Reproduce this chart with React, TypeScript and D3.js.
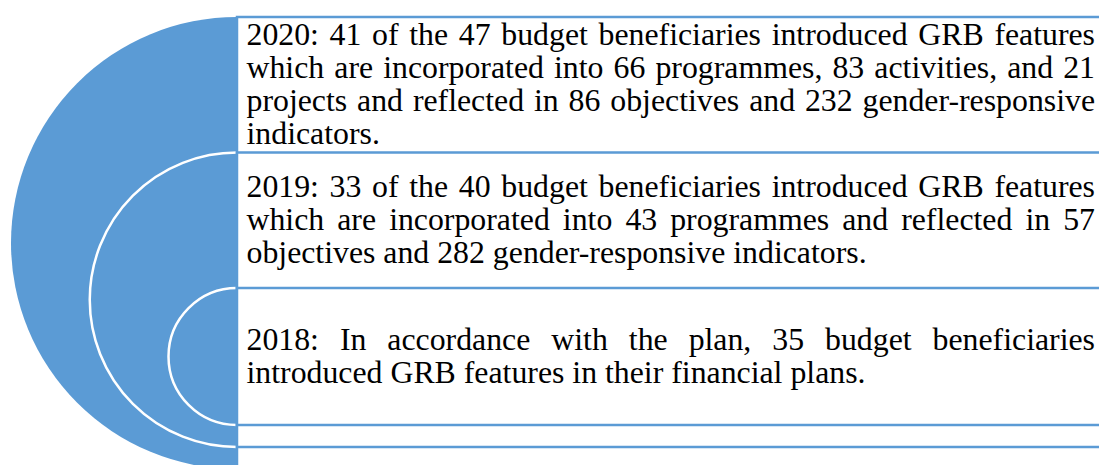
import { useEffect, useRef } from "react";
import * as d3 from "d3";

// nested target levels, outer to inner
const levels = [0, 1, 2];

const text2020 = [
  "2020: 41 of the 47 budget beneficiaries introduced GRB features",
  "which are incorporated into 66 programmes, 83 activities, and 21",
  "projects and reflected in 86 objectives and 232 gender-responsive",
  "indicators.",
];
const text2019 = [
  "2019: 33 of the 40 budget beneficiaries introduced GRB features",
  "which are incorporated into 43 programmes and reflected in 57",
  "objectives and 282 gender-responsive indicators.",
];
const text2018 = [
  "2018: In accordance with the plan, 35 budget beneficiaries",
  "introduced GRB features in their financial plans.",
];
const paragraphs = [text2020, text2019, text2018];

const width = 1099;
const height = 465;
const blue = "#5B9BD5";

export default function App() {
  const ref = useRef<SVGSVGElement>(null);

  useEffect(() => {
    const svg = d3.select(ref.current);
    svg.selectAll("*").remove();

    const cx = 237;
    const top = d3.scaleLinear().domain([0, 2]).range([17, 288]);
    const radius = d3.scaleLinear().domain([0, 2]).range([226, 68.5]);

    // circles
    svg
      .append("g")
      .selectAll("circle")
      .data(levels)
      .join("circle")
      .attr("cx", cx)
      .attr("cy", (d) => top(d) + radius(d))
      .attr("r", (d) => radius(d))
      .attr("fill", blue)
      .attr("stroke", (d) => (d === 0 ? "none" : "#fff"))
      .attr("stroke-width", 2.5);

    // text boxes
    svg
      .append("g")
      .selectAll("rect")
      .data(levels)
      .join("rect")
      .attr("x", cx)
      .attr("y", (d) => top(d))
      .attr("width", 1000)
      .attr("height", (d) => 2 * radius(d))
      .attr("fill", "#fff")
      .attr("stroke", blue)
      .attr("stroke-width", 2.5);

    const g = svg
      .append("g")
      .attr("font-family", "'Liberation Serif', 'Times New Roman', serif")
      .attr("font-size", 31.8)
      .attr("fill", "#000");

    const x0 = 246.5;
    const x1 = 1095;
    const lh = 33;

    paragraphs.forEach((lines, i) => {
      const y0 = top(i);
      const y1 = i < levels.length - 1 ? top(i + 1) : top(i) + 2 * radius(i);
      const mid = (y0 + y1) / 2;
      const n = lines.length;
      lines.forEach((line, j) => {
        const y = mid - ((n - 1) / 2) * lh + 9.5 + j * lh;
        if (j === n - 1) {
          g.append("text").attr("x", x0).attr("y", y).text(line);
          return;
        }
        // justify by spreading the words
        const words = line.split(" ");
        const nodes = words.map((w) =>
          g.append("text").attr("x", x0).attr("y", y).text(w)
        );
        const widths = nodes.map((t) => t.node()!.getComputedTextLength());
        const gap = (x1 - x0 - d3.sum(widths)) / (words.length - 1);
        let x = x0;
        nodes.forEach((t, k) => {
          t.attr("x", x);
          x += widths[k] + gap;
        });
      });
    });
  }, []);

  return (
    <svg
      ref={ref}
      width={width}
      height={height}
      viewBox={`0 0 ${width} ${height}`}
      style={{ position: "absolute", left: 0, top: 0, display: "block" }}
    />
  );
}
